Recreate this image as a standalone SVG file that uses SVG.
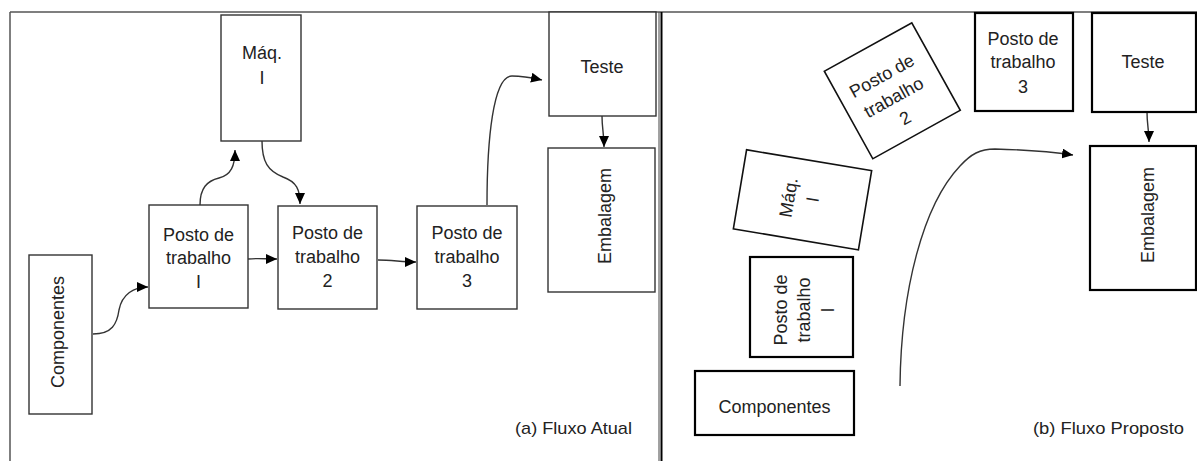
<svg xmlns="http://www.w3.org/2000/svg" width="1197" height="461" viewBox="0 0 1197 461">
<defs>
<marker id="ah" markerUnits="userSpaceOnUse" markerWidth="12" markerHeight="10" refX="11" refY="5" orient="auto">
<path d="M0,0 L11,5 L0,10 Z" fill="#000"/>
</marker>
</defs>
<style>
.t{font-family:"Liberation Sans",Arial,sans-serif;font-size:18px;fill:#222;text-anchor:middle}
.lbl{font-family:"Liberation Sans",Arial,sans-serif;font-size:17px;fill:#222;text-anchor:middle}
.bl{fill:#fff;stroke:#333;stroke-width:1.4}
.br{fill:#fff;stroke:#000;stroke-width:2.2}
.brr{fill:#fff;stroke:#111;stroke-width:1.6}
.c{fill:none;stroke:#333;stroke-width:1.4;marker-end:url(#ah)}
.cr{fill:none;stroke:#333;stroke-width:1.2}
</style>
<rect width="1197" height="461" fill="#fff"/>
<g id="frame">
<line x1="10" y1="12" x2="1197" y2="12" stroke="#555" stroke-width="1.5"/>
<line x1="10" y1="12" x2="10" y2="461" stroke="#555" stroke-width="1.5"/>
<line x1="659" y1="12" x2="659" y2="461" stroke="#444" stroke-width="1"/>
<line x1="661.5" y1="12" x2="661.5" y2="461" stroke="#000" stroke-width="2"/>
</g>
<g id="connectors">
<path class="c" d="M93,334 C112,334 117,324 119,310 C122,294 134,287 148,287"/>
<path class="c" d="M200,205 C200,188 207,181 219,178 C231,175 235,166 235,150"/>
<path class="c" d="M262,141 C262,162 268,171 283,177 C297,182 300,190 300,204"/>
<path class="c" d="M248,259 C258,258 265,259 277,259"/>
<path class="c" d="M378,260 C392,260 402,262 416,262"/>
<path class="c" d="M487,205 C487,140 493,76 512,76 C525,76 533,78 542,80"/>
<path class="c" d="M602,116 C602,128 604,134 604,147"/>
<path class="c" d="M1147,112 C1147,125 1149,130 1149,142"/>
<path class="c" d="M900,386 C901,290 923,205 960,166 C971,154 980,149 995,149 C1030,150 1052,152 1073,155"/>
</g>
<g id="left-maq">
<rect class="bl" x="221" y="15" width="80" height="126"/>
<text class="t" x="262" y="59">Máq.</text>
<text class="t" x="262" y="84">I</text>
</g>
<g id="left-componentes">
<rect class="bl" x="29" y="255" width="63" height="159"/>
<text class="t" transform="translate(64,332) rotate(-90)">Componentes</text>
</g>
<g id="left-posto1">
<rect class="bl" x="149" y="205" width="99" height="103"/>
<text class="t" x="198.5" y="241">Posto de</text>
<text class="t" x="198.5" y="264">trabalho</text>
<text class="t" x="198.5" y="288">I</text>
</g>
<g id="left-posto2">
<rect class="bl" x="278" y="206" width="99" height="103"/>
<text class="t" x="327.5" y="239">Posto de</text>
<text class="t" x="327.5" y="263">trabalho</text>
<text class="t" x="327.5" y="287">2</text>
</g>
<g id="left-posto3">
<rect class="bl" x="417" y="206" width="100" height="103"/>
<text class="t" x="467" y="239">Posto de</text>
<text class="t" x="467" y="263">trabalho</text>
<text class="t" x="467" y="287">3</text>
</g>
<g id="left-teste">
<rect class="bl" x="549" y="12" width="107" height="104"/>
<text class="t" x="602" y="73">Teste</text>
</g>
<g id="left-embalagem">
<rect class="bl" x="548" y="148" width="107" height="144"/>
<text class="t" transform="translate(610.5,216) rotate(-90)">Embalagem</text>
</g>
<g id="label-a">
<text class="lbl" x="573.5" y="434" textLength="117" lengthAdjust="spacingAndGlyphs">(a) Fluxo Atual</text>
</g>
<g id="right-posto2">
<g transform="translate(892.3,90.8) rotate(-29)">
<rect class="brr" x="-50" y="-50" width="100" height="100"/>
<text class="t" x="-2" y="-12">Posto de</text>
<text class="t" x="-2" y="12.5">trabalho</text>
<text class="t" x="-2" y="36">2</text>
</g>
</g>
<g id="right-maq">
<g transform="translate(802.5,199.8) rotate(9.5)">
<rect class="brr" x="-63.4" y="-40.1" width="126.8" height="80.2"/>
<text class="t" transform="translate(-8,0) rotate(-90)">Máq.</text>
<text class="t" transform="translate(16,-2) rotate(-90)">I</text>
</g>
</g>
<g id="right-posto1">
<rect class="br" x="750" y="257" width="103" height="100"/>
<text class="t" transform="translate(787,310) rotate(-90)">Posto de</text>
<text class="t" transform="translate(810,310) rotate(-90)">trabalho</text>
<text class="t" transform="translate(834,310) rotate(-90)">I</text>
</g>
<g id="right-componentes">
<rect class="br" x="695" y="371" width="159" height="64"/>
<text class="t" x="774.5" y="413">Componentes</text>
</g>
<g id="right-posto3">
<rect class="br" x="975" y="13" width="98" height="98"/>
<text class="t" x="1023" y="45">Posto de</text>
<text class="t" x="1023" y="68">trabalho</text>
<text class="t" x="1023" y="93">3</text>
</g>
<g id="right-teste">
<rect class="br" x="1092" y="13" width="104" height="99"/>
<text class="t" x="1143" y="68">Teste</text>
</g>
<g id="right-embalagem">
<rect class="br" x="1090" y="146" width="106" height="144"/>
<text class="t" transform="translate(1153.5,215) rotate(-90)">Embalagem</text>
</g>
<g id="label-b">
<text class="lbl" x="1108.5" y="434" textLength="151" lengthAdjust="spacingAndGlyphs">(b) Fluxo Proposto</text>
</g>
</svg>
